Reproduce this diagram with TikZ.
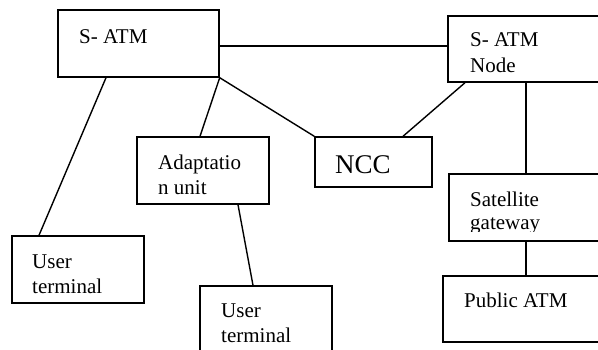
\documentclass[tikz,border=0pt]{standalone}
\usepackage{fontspec}
\setmainfont{Liberation Serif}
\usetikzlibrary{calc}
\tikzset{
  box/.style={draw=black, line width=1.4pt, rectangle, inner sep=0pt},
  lbl/.style={anchor=base west, inner sep=0pt, font=\fontsize{21}{25}\selectfont},
  big/.style={anchor=base west, inner sep=0pt, font=\fontsize{27}{31}\selectfont},
  conn/.style={draw=black, line width=1.4pt}
}
\begin{document}
\begin{tikzpicture}[x=1pt,y=-1pt]
\useasboundingbox (0,0) rectangle (598,349);
\clip (0,0) rectangle (598,349);
\fill[white] (0,0) rectangle (598,349);
% boxes
\node[box, minimum width=161pt, minimum height=67pt] (satm) at (138.5,43.5) {};
\node[box, minimum width=156pt, minimum height=66pt] (nodeb) at (526,49) {};
\node[box, minimum width=117pt, minimum height=50pt] (ncc) at (373.5,162) {};
\node[box, minimum width=132pt, minimum height=67pt] (adapt) at (203,170.5) {};
\node[box, minimum width=132pt, minimum height=67pt] (ut1) at (78,269.5) {};
\node[box, minimum width=132pt, minimum height=67pt] (ut2) at (266,319.5) {};
\node[box, minimum width=154pt, minimum height=67pt] (sat) at (526,207.5) {};
\node[box, minimum width=166pt, minimum height=66pt] (pub) at (526,309) {};
% labels
\node[lbl] (tsatm) at (79,43) {S- ATM};
\node[lbl] (tnode1) at (470,46) {S- ATM};
\node[lbl] (tnode2) at (470,72) {Node};
\node[big] (tncc) at (335,173) {NCC};
\node[lbl] (tad1) at (158,169) {Adaptatio};
\node[lbl] (tad2) at (158,194) {n unit};
\node[lbl] (tut1a) at (32,268) {User};
\node[lbl] (tut1b) at (32,293) {terminal};
\node[lbl] (tut2a) at (221,317) {User};
\node[lbl] (tut2b) at (221,342) {terminal};
\node[lbl] (tsat1) at (470,206) {Satellite};
\begin{scope}
\clip (449,176) rectangle (604,231.5);
\node[lbl] (tsat2) at (470,229) {gateway};
\end{scope}
\node[lbl] (tpub) at (464,307) {Public ATM};
% connectors
\draw[conn] ([yshift=-2.5pt]satm.east) -- ([yshift=-2.5pt]satm.east -| nodeb.west);
\draw[conn] ([xshift=-32.5pt]satm.south) -- ([xshift=-39pt]ut1.north);
\draw[conn] (satm.south east) -- ([xshift=-3pt]adapt.north);
\draw[conn] (satm.south east) -- (ncc.north west);
\draw[conn] ([xshift=-61pt]nodeb.south) -- ([xshift=29.5pt]ncc.north);
\draw[conn] (nodeb.south) -- (sat.north);
\draw[conn] (sat.south) -- (pub.north);
\draw[conn] ([xshift=35pt]adapt.south) -- ([xshift=-13pt]ut2.north);
\end{tikzpicture}
\end{document}
